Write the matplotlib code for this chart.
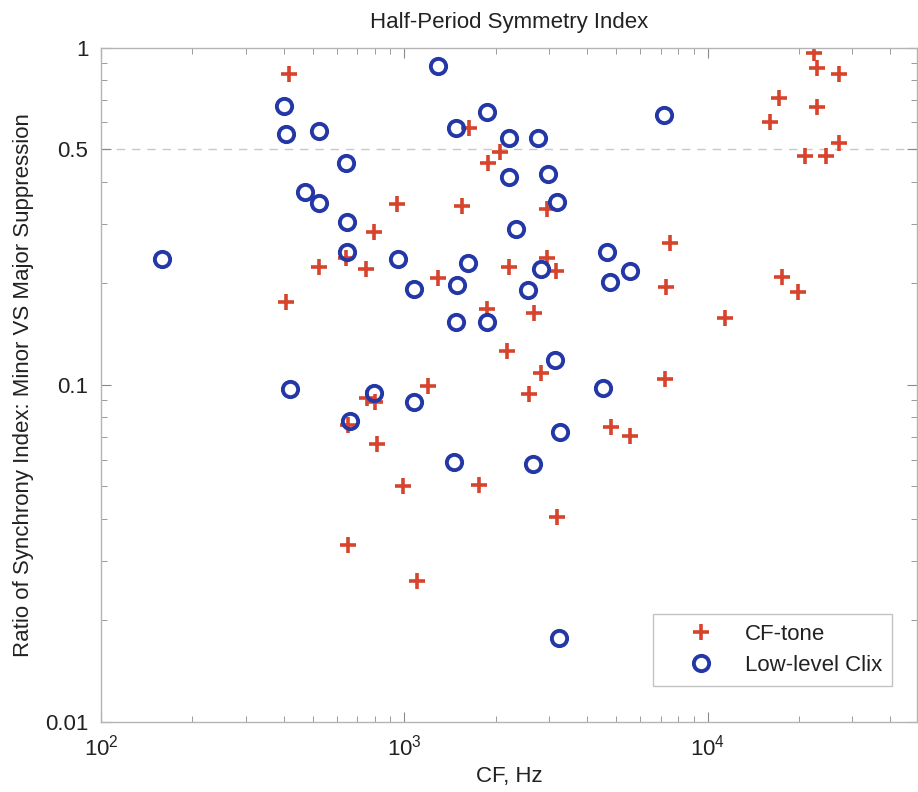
import matplotlib
matplotlib.use("Agg")
import matplotlib.pyplot as plt

# CF-tone (red +)
tone_cf = [416, 407, 523, 642, 747, 793, 945, 1290, 1547, 1632, 1885, 2064,
           1870, 2210, 2671, 2949, 2949, 3157, 2176, 2817, 2572, 1195, 752, 799,
           652, 812, 989, 1760, 3181, 652, 1100, 4791, 5535, 7218, 7498, 7272,
           11380, 17530, 19800, 22360, 22870, 27020, 17140, 22870, 16010, 27020,
           20870, 24480]
tone_ratio = [0.834, 0.176, 0.223, 0.237, 0.220, 0.284, 0.343, 0.207, 0.339, 0.577,
              0.454, 0.490, 0.1675, 0.223, 0.163, 0.332, 0.237, 0.217, 0.1257, 0.1082,
              0.0937, 0.099, 0.0912, 0.0887, 0.0758, 0.0666, 0.050, 0.0503, 0.0405,
              0.0334, 0.0261, 0.0748, 0.0704, 0.1039, 0.263, 0.1948, 0.1576, 0.2085,
              0.188, 0.963, 0.869, 0.834, 0.708, 0.666, 0.601, 0.521, 0.477, 0.477]

# Low-level Clix (blue o)
clix_cf = [159, 401, 407, 523, 642, 470, 523, 646, 646, 952, 1075, 1290, 1478,
           1870, 2210, 2754, 2210, 2971, 3181, 2330, 1619, 4648, 2817, 4755, 1489,
           2553, 1478, 1870, 5535, 7163, 3133, 4510, 420, 793, 1075, 661, 1456,
           3254, 2651, 3229]
clix_ratio = [0.236, 0.671, 0.554, 0.565, 0.454, 0.3725, 0.3456, 0.3036, 0.2473,
              0.236, 0.192, 0.881, 0.577, 0.644, 0.539, 0.539, 0.4127, 0.4212, 0.348,
              0.2893, 0.2294, 0.2473, 0.2203, 0.2015, 0.1974, 0.1908, 0.1533, 0.1533,
              0.2172, 0.630, 0.1183, 0.0977, 0.097, 0.0944, 0.0888, 0.078, 0.0589,
              0.0723, 0.0581, 0.0177]

yticks = [0.01, 0.1, 0.5, 1]
ytick_labels = ["0.01", "0.1", "0.5", "1"]

plt.rcParams["font.family"] = ["Liberation Sans", "DejaVu Sans"]
plt.rcParams["mathtext.fontset"] = "custom"
plt.rcParams["mathtext.rm"] = "Liberation Sans"
plt.rcParams["mathtext.it"] = "Liberation Sans"

fig = plt.figure(figsize=(9.18, 7.92), dpi=100)
ax = fig.add_axes([101 / 918, 1 - 722 / 792, 816 / 918, 674.5 / 792])

ax.axhline(0.5, color="#c8c8c8", lw=1.0, ls=(0, (6, 5)), zorder=0)
ax.plot(tone_cf, tone_ratio, "+", color="#d8432c", ms=11, mew=2.6,
        ls="none", label="CF-tone")
ax.plot(clix_cf, clix_ratio, "o", mfc="none", mec="#2338a6", ms=11, mew=2.8,
        ls="none", label="Low-level Clix")

ax.set_xscale("log")
ax.set_yscale("log")
ax.set_xlim(100, 4.9e4)
ax.set_ylim(0.01, 1)
ax.set_yticks(yticks)
ax.set_yticklabels(ytick_labels)

for s in ax.spines.values():
    s.set_color("#b4b4b4")
    s.set_linewidth(1.0)
ax.tick_params(which="both", direction="in", top=True, right=True,
               colors="#8a8a8a", labelcolor="#222222", labelsize=16)
ax.tick_params(which="major", length=7, pad=9)
ax.tick_params(which="minor", length=4)

ax.set_title("Half-Period Symmetry Index", fontsize=16, color="#222222", pad=14)
ax.set_xlabel("CF, Hz", fontsize=16, color="#222222", labelpad=4)
ax.set_ylabel("Ratio of Synchrony Index: Minor VS Major Suppression",
              fontsize=16, color="#222222", labelpad=8)

leg = ax.legend(loc="lower right", bbox_to_anchor=(892 / 918, 1 - 686 / 792),
                bbox_transform=fig.transFigure, fontsize=16, fancybox=False,
                frameon=True, handletextpad=0.2, borderpad=0.45,
                borderaxespad=0, labelspacing=0.45, handlelength=3.5)
leg.get_frame().set_edgecolor("#b4b4b4")
leg.get_frame().set_linewidth(1.0)
for t in leg.get_texts():
    t.set_color("#222222")

fig.savefig("out.png", dpi=100)
